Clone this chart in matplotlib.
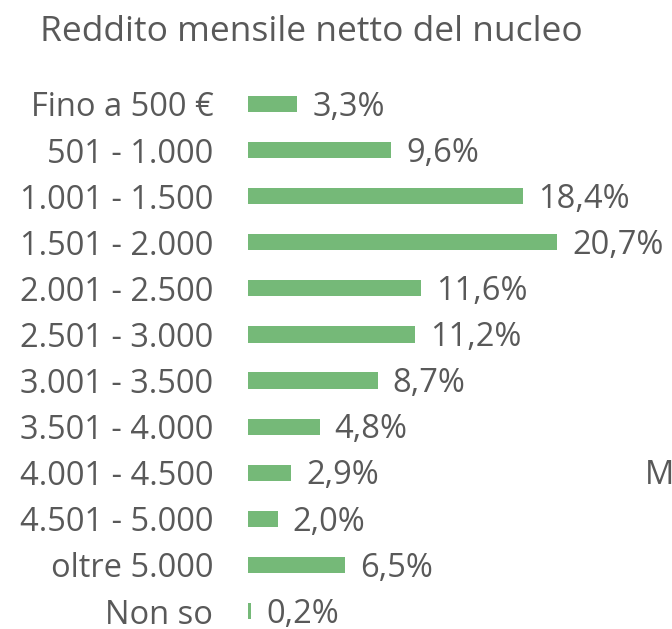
import numpy as np
import matplotlib.pyplot as plt

categorie = ['Fino a 500 €', '501 - 1.000', '1.001 - 1.500', '1.501 - 2.000',
             '2.001 - 2.500', '2.501 - 3.000', '3.001 - 3.500', '3.501 - 4.000',
             '4.001 - 4.500', '4.501 - 5.000', 'oltre 5.000', 'Non so']
valori = [3.3, 9.6, 18.4, 20.7, 11.6, 11.2, 8.7, 4.8, 2.9, 2.0, 6.5, 0.2]

VERDE = '#75B978'
GRIGIO = '#595959'

plt.rcParams['font.family'] = ['Open Sans', 'DejaVu Sans']

fig = plt.figure(figsize=(6.72, 6.29), dpi=100)
ax = fig.add_axes([248 / 672, 0, 1 - 248 / 672, 1])

y = np.arange(len(categorie))
ax.barh(y, valori, height=0.35, color=VERDE)

# etichette dei valori con la virgola decimale
for yi, v in zip(y, valori):
    ax.text(v + 1.0, yi + 0.07, f'{v:.1f}%'.replace('.', ','), va='center', ha='left',
            fontsize=23.5, color=GRIGIO)

ax.set_xlim(0, 28.4)
ax.set_ylim(11.39, -2.256)
ax.set_yticks(y)
ax.set_yticklabels(categorie, fontsize=23.5, color=GRIGIO)
ax.tick_params(axis='y', length=0, pad=25)
ax.set_xticks([])
for s in ax.spines.values():
    s.set_visible(False)

fig.text(40 / 672, 1 - 32 / 629, 'Reddito mensile netto del nucleo', fontsize=25.5,
         color=GRIGIO, ha='left', va='center')
fig.text(645 / 672, 1 - 475 / 629, 'M', fontsize=23.5, color=GRIGIO, ha='left', va='center')

fig.savefig('out.png', dpi=100)
